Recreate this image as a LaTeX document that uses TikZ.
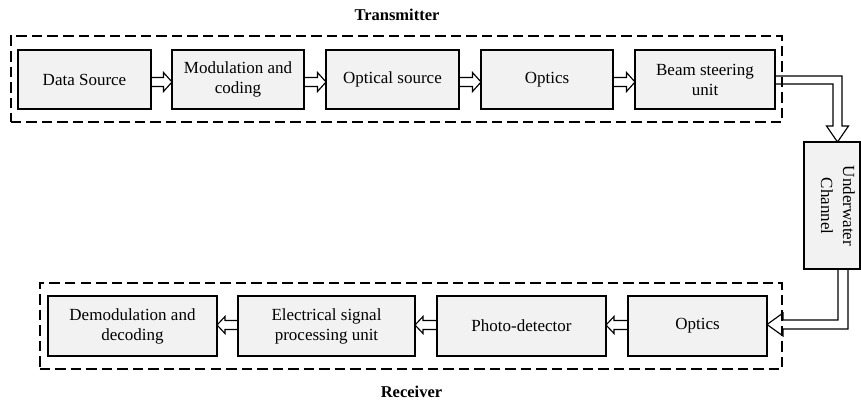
\documentclass[tikz,border=0pt]{standalone}
\usepackage{fontspec}
\setmainfont{Liberation Serif}
\usetikzlibrary{calc,backgrounds}
\tikzset{
  blk/.style={draw, line width=1.2bp, fill=black!5, inner sep=0pt, outer sep=0pt,
    align=center, font=\fontsize{17bp}{20bp}\selectfont},
  harrow/.style={draw, line width=1.15bp, fill=white, line join=miter},
  frame/.style={draw, dash pattern=on 10.5bp off 5bp, line width=1.8bp},
  lbl/.style={inner sep=0pt, font=\fontsize{16.5bp}{20bp}\selectfont\bfseries},
}
\newcommand{\ArrR}[3]{%
  \draw[harrow] let \p1=(#1.east), \p2=(#2.west) in
  (\x1,{\y1+(#3)+4.5bp}) -- ({\x2-8.5bp},{\y1+(#3)+4.5bp}) -- ({\x2-8.5bp},{\y1+(#3)+9.5bp})
  -- (\x2,{\y1+(#3)}) -- ({\x2-8.5bp},{\y1+(#3)-9.5bp}) -- ({\x2-8.5bp},{\y1+(#3)-4.5bp})
  -- (\x1,{\y1+(#3)-4.5bp});}
\newcommand{\ArrL}[3]{%
  \draw[harrow] let \p1=(#1.west), \p2=(#2.east) in
  (\x1,{\y1+(#3)+4.5bp}) -- ({\x2+8bp},{\y1+(#3)+4.5bp}) -- ({\x2+8bp},{\y1+(#3)+8.5bp})
  -- (\x2,{\y1+(#3)}) -- ({\x2+8bp},{\y1+(#3)-8.5bp}) -- ({\x2+8bp},{\y1+(#3)-4.5bp})
  -- (\x1,{\y1+(#3)-4.5bp});}
\begin{document}
\begin{tikzpicture}[x=1bp,y=-1bp]
\useasboundingbox (0,0) rectangle (861,401);

% top row
\node[blk, minimum width=133bp, minimum height=59bp] (ds)   at (84.5,79.5) {Data Source};
\node[blk, minimum width=132bp, minimum height=59bp] (mod)  at (238,79.5)  {Modulation and\\coding};
\node[blk, minimum width=133bp, minimum height=59bp] (osrc) at (392.5,79.5){Optical source};
\node[blk, minimum width=132bp, minimum height=59bp] (opt1) at (547,79.5)  {Optics};
\node[blk, minimum width=140bp, minimum height=59bp] (beam) at (705,79.5)  {Beam steering\\unit};

% channel
\node[blk, minimum width=56bp, minimum height=127bp] (uw) at (832,205.5) {};
\node[rotate=-90, align=center, inner sep=0pt, font=\fontsize{17bp}{22bp}\selectfont] (uwt) at (838,206) {Underwater\\Channel};

% bottom row
\node[blk, minimum width=169bp, minimum height=60bp] (demod) at (132.5,326) {Demodulation and\\decoding};
\node[blk, minimum width=177bp, minimum height=60bp] (esp)   at (326.5,326) {Electrical signal\\processing unit};
\node[blk, minimum width=169bp, minimum height=60bp] (pd)    at (521.5,326) {Photo-detector};
\node[blk, minimum width=139bp, minimum height=60bp] (opt2)  at (697.5,326) {Optics};

% arrows behind boxes
\begin{pgfonlayer}{background}
\ArrR{ds}{mod}{-2.5bp}
\ArrR{mod}{osrc}{-2.5bp}
\ArrR{osrc}{opt1}{-2.5bp}
\ArrR{opt1}{beam}{-2.5bp}
\ArrL{opt2}{pd}{1bp}
\ArrL{pd}{esp}{1bp}
\ArrL{esp}{demod}{1bp}
\draw[harrow] let \p1=(beam.east), \p2=(uw.north) in
  (\x1,{\y1+3.5bp}) -- ({\x2+10bp},{\y1+3.5bp}) -- ({\x2+10bp},{\y2+16bp})
  -- ({\x2+16.5bp},{\y2+16bp}) -- ({\x2+5.5bp},\y2) -- ({\x2-5.5bp},{\y2+16bp})
  -- ({\x2+1bp},{\y2+16bp}) -- ({\x2+1bp},{\y1-4.5bp}) -- (\x1,{\y1-4.5bp});
\draw[harrow] let \p1=(uw.south), \p2=(opt2.east) in
  ({\x1+6bp},\y1) -- ({\x1+6bp},{\y2+6bp}) -- ({\x2+16bp},{\y2+6bp})
  -- ({\x2+16bp},{\y2+13bp}) -- (\x2,{\y2+1.5bp}) -- ({\x2+16bp},{\y2-10bp})
  -- ({\x2+16bp},{\y2-3bp}) -- ({\x1+16bp},{\y2-3bp}) -- ({\x1+16bp},\y1);
\end{pgfonlayer}

% frames
\node[frame, minimum width=771bp, minimum height=86bp, inner sep=0pt] (tx) at (396.5,79) {};
\node[frame, minimum width=742bp, minimum height=86bp, inner sep=0pt] (rx) at (411,326) {};

% labels
\node[lbl] (txl) at (397,15) {Transmitter};
\node[lbl] (rxl) at (411.5,392) {Receiver};
\end{tikzpicture}
\end{document}
